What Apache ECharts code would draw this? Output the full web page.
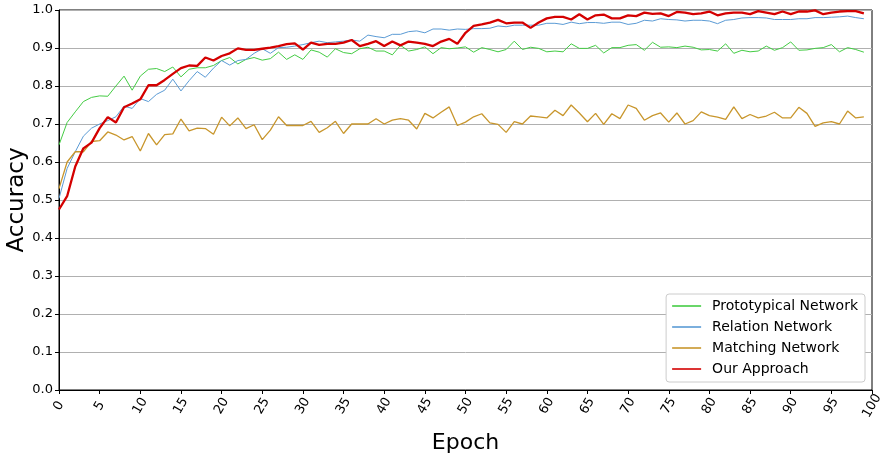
<!DOCTYPE html>
<html><head><meta charset="utf-8">
<script src="https://cdn.jsdelivr.net/npm/echarts@6/dist/echarts.min.js"></script>
<style>html,body{margin:0;padding:0;background:#fff}#c{width:882px;height:457px}</style>
</head><body><div id="c"></div>
<script>
const seriesNames = ["Prototypical Network", "Relation Network", "Matching Network", "Our Approach"];
const xTicks = [0,5,10,15,20,25,30,35,40,45,50,55,60,65,70,75,80,85,90,95,100];
const yTicks = [0.0,0.1,0.2,0.3,0.4,0.5,0.6,0.7,0.8,0.9,1.0];

const prototypical = [
0.645,0.704,0.732,0.759,0.770,0.774,0.773,0.800,0.826,0.789,0.826,0.844,0.846,0.838,0.850,0.824,0.844,0.848,0.848,0.854,0.867,0.875,0.858,0.870,0.875,
0.868,0.872,0.889,0.870,0.882,0.870,0.895,0.889,0.876,0.898,0.888,0.885,0.898,0.902,0.892,0.892,0.882,0.907,0.892,0.896,0.903,0.885,0.901,0.898,0.900,
0.903,0.889,0.901,0.896,0.890,0.896,0.918,0.896,0.902,0.899,0.890,0.892,0.890,0.911,0.899,0.899,0.907,0.887,0.901,0.901,0.907,0.909,0.894,0.915,0.902,
0.903,0.901,0.905,0.902,0.895,0.896,0.892,0.911,0.886,0.894,0.890,0.892,0.905,0.894,0.901,0.916,0.894,0.895,0.899,0.901,0.909,0.890,0.901,0.896,0.889];

const relation = [
0.504,0.583,0.627,0.668,0.689,0.700,0.709,0.719,0.747,0.741,0.767,0.759,0.778,0.789,0.818,0.787,0.814,0.838,0.823,0.847,0.867,0.855,0.867,0.870,0.886,
0.898,0.886,0.901,0.902,0.905,0.909,0.914,0.918,0.914,0.916,0.918,0.921,0.918,0.934,0.930,0.927,0.936,0.936,0.943,0.945,0.940,0.950,0.950,0.947,0.950,
0.949,0.951,0.951,0.952,0.958,0.956,0.960,0.960,0.960,0.960,0.965,0.965,0.962,0.968,0.964,0.967,0.967,0.965,0.968,0.968,0.962,0.965,0.973,0.971,0.977,
0.975,0.974,0.971,0.973,0.973,0.971,0.964,0.973,0.975,0.979,0.980,0.980,0.979,0.975,0.975,0.975,0.977,0.977,0.980,0.980,0.981,0.982,0.984,0.980,0.977];

const matching = [
0.530,0.600,0.627,0.627,0.654,0.656,0.679,0.671,0.658,0.667,0.629,0.675,0.645,0.672,0.674,0.713,0.682,0.689,0.688,0.673,0.718,0.695,0.716,0.688,0.698,
0.659,0.684,0.719,0.696,0.696,0.696,0.707,0.678,0.690,0.707,0.675,0.700,0.700,0.700,0.714,0.700,0.710,0.714,0.710,0.687,0.728,0.716,0.731,0.745,0.696,
0.705,0.719,0.727,0.703,0.699,0.678,0.706,0.700,0.721,0.719,0.716,0.736,0.722,0.750,0.729,0.706,0.728,0.699,0.727,0.714,0.750,0.741,0.710,0.722,0.729,
0.705,0.729,0.700,0.709,0.732,0.722,0.718,0.712,0.745,0.714,0.725,0.716,0.721,0.731,0.716,0.716,0.744,0.728,0.694,0.703,0.706,0.700,0.734,0.716,0.719];

const ourApproach = [
0.475,0.510,0.588,0.636,0.651,0.689,0.718,0.704,0.744,0.754,0.765,0.802,0.802,0.816,0.832,0.847,0.854,0.853,0.875,0.867,0.879,0.886,0.899,0.895,0.895,
0.898,0.901,0.905,0.910,0.912,0.896,0.914,0.908,0.911,0.911,0.914,0.921,0.905,0.911,0.918,0.905,0.917,0.907,0.917,0.914,0.911,0.905,0.917,0.924,0.911,
0.940,0.958,0.962,0.967,0.974,0.965,0.967,0.967,0.953,0.967,0.978,0.982,0.982,0.975,0.989,0.975,0.986,0.988,0.978,0.978,0.986,0.984,0.993,0.990,0.991,
0.984,0.995,0.993,0.989,0.991,0.996,0.986,0.991,0.993,0.993,0.989,0.997,0.993,0.989,0.996,0.989,0.996,0.996,0.999,0.989,0.993,0.996,0.997,0.997,0.991];

const FONT = '"DejaVu Sans", sans-serif';
const colors = ['#44cc44', '#5b9bd5', '#c8962c', '#d40000'];
const widths = [1, 1, 1.3, 2.3];
const allData = [prototypical, relation, matching, ourApproach];

const chart = echarts.init(document.getElementById('c'), null, {renderer: 'canvas'});
chart.setOption({
  animation: false,
  backgroundColor: '#ffffff',
  grid: {left: 59, right: 10, top: 10, bottom: 67, containLabel: false, outerBoundsMode: 'none',
    show: true, borderColor: '#000', borderWidth: 1, backgroundColor: 'transparent'},
  xAxis: {
    type: 'value', min: xTicks[0], max: xTicks[xTicks.length-1], interval: 5,
    name: 'Epoch', nameLocation: 'middle', nameGap: 42, nameMoveOverlap: false,
    nameTextStyle: {fontFamily: FONT, fontSize: 22, color: '#000'},
    axisLine: {show: true, lineStyle: {color: '#000', width: 1}},
    axisTick: {show: true, inside: false, length: 4, lineStyle: {color: '#000'}},
    axisLabel: {rotate: 60, fontFamily: FONT, fontSize: 13, color: '#000', margin: 16,
      align: 'center', verticalAlign: 'middle',
      formatter: v => xTicks.includes(v) ? String(v) : ''},
    splitLine: {show: false}
  },
  yAxis: {
    type: 'value', min: yTicks[0], max: yTicks[yTicks.length-1], interval: 0.1,
    name: 'Accuracy', nameLocation: 'middle', nameGap: 30, nameRotate: 90, nameMoveOverlap: false,
    nameTextStyle: {fontFamily: FONT, fontSize: 23, color: '#000'},
    axisLine: {show: true, lineStyle: {color: '#000', width: 1}},
    axisTick: {show: true, inside: false, length: 4, lineStyle: {color: '#000'}},
    axisLabel: {fontFamily: FONT, fontSize: 13, color: '#000', margin: 6,
      formatter: v => v.toFixed(1)},
    splitLine: {show: true, lineStyle: {color: '#b0b0b0', width: 1}}
  },
  legend: {
    orient: 'vertical', right: 17, bottom: 75,
    data: seriesNames,
    icon: 'rect', symbolKeepAspect: false,
    itemWidth: 29, itemHeight: 1.6, itemGap: 7,
    backgroundColor: '#ffffff', borderColor: '#cccccc', borderWidth: 1, borderRadius: 3,
    padding: [5, 7, 6, 6],
    textStyle: {fontFamily: FONT, fontSize: 14, color: '#000', padding: [0, 0, 0, 6]}
  },
  series: seriesNames.map((n, k) => ({
    name: n, type: 'line', symbol: 'none', smooth: false,
    color: colors[k],
    lineStyle: {color: colors[k], width: widths[k]},
    itemStyle: {color: colors[k]},
    z: k + 2,
    data: allData[k].map((v, i) => [i, v])
  }))
});
</script></body></html>
